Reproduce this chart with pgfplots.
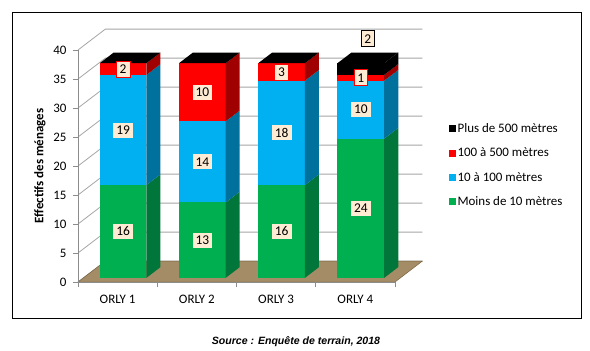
\documentclass[border=0pt]{standalone}
\usepackage{pgfplots}
\pgfplotsset{compat=1.18}
\usepackage{pgfplotstable}
\usepackage{fontspec}
\setmainfont{Carlito}
\newfontfamily\arialfont{Liberation Sans}

\definecolor{cgreen}{HTML}{00B050}
\definecolor{cgreenS}{HTML}{00763A}
\definecolor{cblue}{HTML}{00B0F0}
\definecolor{cblueS}{HTML}{00709C}
\definecolor{cred}{HTML}{FF0000}
\definecolor{credS}{HTML}{A00000}
\definecolor{cblack}{HTML}{000000}
\definecolor{cblackS}{HTML}{000000}
\definecolor{lbl}{HTML}{FDEBD4}
\definecolor{gridc}{HTML}{A6A6A6}
\definecolor{axisc}{HTML}{8C8C8C}
\definecolor{floorc}{HTML}{A48C66}
\definecolor{flooredge}{HTML}{7A6442}

\pgfplotstableread{
x g b r k
1 16 19 2 0
2 13 14 10 0
3 16 18 3 0
4 24 10 1 2
}\data

\def\dX{0.345}\def\dY{3.6}\def\fA{0.2}\def\fB{0.713}\def\hw{0.295}

\tikzset{lbl box/.style={fill=lbl, draw, line width=0.8bp, inner xsep=3.5bp, inner ysep=0pt,
  minimum height=16bp, font=\fontsize{13.5}{15}\selectfont}}

% segment: #1 x, #2 bottom, #3 top, #4 series
\newcommand\seg[4]{%
  \pgfmathsetmacro\xl{#1-\hw+\fA*\dX}%
  \pgfmathsetmacro\xr{#1+\hw+\fA*\dX}%
  \pgfmathsetmacro\xrb{#1+\hw+\fB*\dX}%
  \pgfmathsetmacro\ya{#2+\fA*\dY}%
  \pgfmathsetmacro\yb{#3+\fA*\dY}%
  \pgfmathsetmacro\yab{#2+\fB*\dY}%
  \pgfmathsetmacro\ybb{#3+\fB*\dY}%
  \edef\tmp{\noexpand\addplot[fill=c#4, draw=none, forget plot] coordinates {(\xl,\ya) (\xr,\ya) (\xr,\yb) (\xl,\yb)} -- cycle;
  \noexpand\addplot[fill=c#4S, draw=none, forget plot] coordinates {(\xr,\ya) (\xrb,\yab) (\xrb,\ybb) (\xr,\yb)} -- cycle;}%
  \tmp}
% top face: #1 x, #2 total, #3 series
\newcommand\topface[3]{%
  \pgfmathsetmacro\xl{#1-\hw+\fA*\dX}%
  \pgfmathsetmacro\xr{#1+\hw+\fA*\dX}%
  \pgfmathsetmacro\xlb{#1-\hw+\fB*\dX}%
  \pgfmathsetmacro\xrb{#1+\hw+\fB*\dX}%
  \pgfmathsetmacro\ya{#2+\fA*\dY}%
  \pgfmathsetmacro\yb{#2+\fB*\dY}%
  \edef\tmp{\noexpand\addplot[fill=c#3, draw=none, forget plot] coordinates {(\xl,\ya) (\xr,\ya) (\xrb,\yb) (\xlb,\yb)} -- cycle;}%
  \tmp}
% label: #1 x, #2 bottom, #3 top, #4 series, #5 text
\newcommand\seglabel[5]{%
  \pgfmathsetmacro\lx{#1+\fA*\dX}%
  \pgfmathsetmacro\ly{(#2+#3)/2+\fA*\dY}%
  \edef\tmp{\noexpand\node[lbl box, draw=c#4] at (axis cs:\lx,\ly) {#5};}%
  \tmp}

\begin{document}
\begin{tikzpicture}
\path[use as bounding box] (0,0) rectangle (590bp,-351bp);
\fill[white] (0,0) rectangle (590bp,-351bp);
\begin{axis}[
  at={(78bp,-282bp)}, anchor=south west,
  x=79.25bp, y=5.8bp,
  xmin=0.5, xmax=4.5, ymin=0, ymax=40,
  clip=false, axis on top,
  axis x line*=bottom, axis y line*=left,
  axis line style={axisc, line width=0.7bp, -},
  xtick={1,2,3,4}, xticklabels={ORLY 1,ORLY 2,ORLY 3,ORLY 4},
  minor xtick={0.5,1.5,2.5,3.5,4.5},
  major x tick style={draw=none},
  ytick={0,5,...,40},
  tick align=outside,
  major tick length=5bp, minor tick length=5bp,
  tick style={axisc, line width=0.7bp},
  /pgf/number format/assume math mode=true,
  tick label style={font=\fontsize{13}{15}\selectfont},
  xticklabel style={yshift=-5bp},
  yticklabel style={xshift=-3bp},
  ylabel={Effectifs des ménages},
  ylabel style={font=\bfseries\fontsize{13}{15}\selectfont, at={(axis description cs:-0.12,0.5)}, anchor=center},
  legend style={at={(axis description cs:1.170,0.691)}, anchor=north west, draw=none, fill=none,
    inner sep=0pt, row sep=11bp, font=\fontsize{13}{15}\selectfont,
    nodes={inner sep=1.5bp}, cells={anchor=west}},
  legend image code/.code={\fill[#1] (0bp,-3.5bp) rectangle (7bp,3.5bp);},
]
% walls grid
\pgfplotsinvokeforeach{0,5,...,40}{
  \draw[gridc, line width=0.8bp] (axis cs:0.5,#1) -- (axis cs:0.5+\dX,#1+\dY) -- (axis cs:4.5+\dX,#1+\dY);
}
% floor
\addplot[fill=floorc, draw=flooredge, line width=0.5bp, forget plot] coordinates {(0.5,0) (4.5,0) (4.845,3.6) (0.845,3.6)} -- cycle;
% bars
\pgfplotsforeachungrouped \r in {0,1,2,3}{%
  \pgfplotstablegetelem{\r}{x}\of\data \edef\cx{\pgfplotsretval}%
  \pgfplotstablegetelem{\r}{g}\of\data \edef\vg{\pgfplotsretval}%
  \pgfplotstablegetelem{\r}{b}\of\data \edef\vb{\pgfplotsretval}%
  \pgfplotstablegetelem{\r}{r}\of\data \edef\vr{\pgfplotsretval}%
  \pgfplotstablegetelem{\r}{k}\of\data \edef\vk{\pgfplotsretval}%
  \pgfmathsetmacro\sa{\vg}%
  \pgfmathsetmacro\sb{\vg+\vb}%
  \pgfmathsetmacro\sc{\sb+\vr}%
  \pgfmathsetmacro\sd{\sc+\vk}%
  \seg{\cx}{0}{\sa}{green}%
  \seg{\cx}{\sa}{\sb}{blue}%
  \seg{\cx}{\sb}{\sc}{red}%
  \ifdim\vk pt>0pt \seg{\cx}{\sc}{\sd}{black}\fi
  \topface{\cx}{\sd}{black}%
}
% labels
\pgfplotsforeachungrouped \r in {0,1,2,3}{%
  \pgfplotstablegetelem{\r}{x}\of\data \edef\cx{\pgfplotsretval}%
  \pgfplotstablegetelem{\r}{g}\of\data \edef\vg{\pgfplotsretval}%
  \pgfplotstablegetelem{\r}{b}\of\data \edef\vb{\pgfplotsretval}%
  \pgfplotstablegetelem{\r}{r}\of\data \edef\vr{\pgfplotsretval}%
  \pgfplotstablegetelem{\r}{k}\of\data \edef\vk{\pgfplotsretval}%
  \pgfmathsetmacro\sa{\vg}%
  \pgfmathsetmacro\sb{\vg+\vb}%
  \pgfmathsetmacro\sc{\sb+\vr}%
  \pgfmathsetmacro\sd{\sc+\vk}%
  \seglabel{\cx}{0}{\sa}{green}{\vg}%
  \seglabel{\cx}{\sa}{\sb}{blue}{\vb}%
  \seglabel{\cx}{\sb}{\sc}{red}{\vr}%
  \ifdim\vk pt>0pt
    \pgfmathsetmacro\lx{\cx+(\fA+\fB)/2*\dX}%
    \pgfmathsetmacro\ly{\sd+(\fA+\fB)/2*\dY+3.3}%
    \edef\tmp{\noexpand\node[lbl box, draw=black] at (axis cs:\lx,\ly) {\vk};}\tmp
  \fi
}
\addlegendimage{fill=black, draw=none}\addlegendentry{Plus de 500 mètres}
\addlegendimage{fill=cred, draw=none}\addlegendentry{100 à 500 mètres}
\addlegendimage{fill=cblue, draw=none}\addlegendentry{10 à 100 mètres}
\addlegendimage{fill=cgreen, draw=none}\addlegendentry{Moins de 10 mètres}
\end{axis}
\draw[line width=0.8bp] (12bp,-12bp) rectangle (581bp,-318bp);
\node[font=\arialfont\bfseries\itshape\fontsize{10.6}{12}\selectfont] at (296bp,-342bp) {Source : Enquête de terrain, 2018};
\end{tikzpicture}
\end{document}
